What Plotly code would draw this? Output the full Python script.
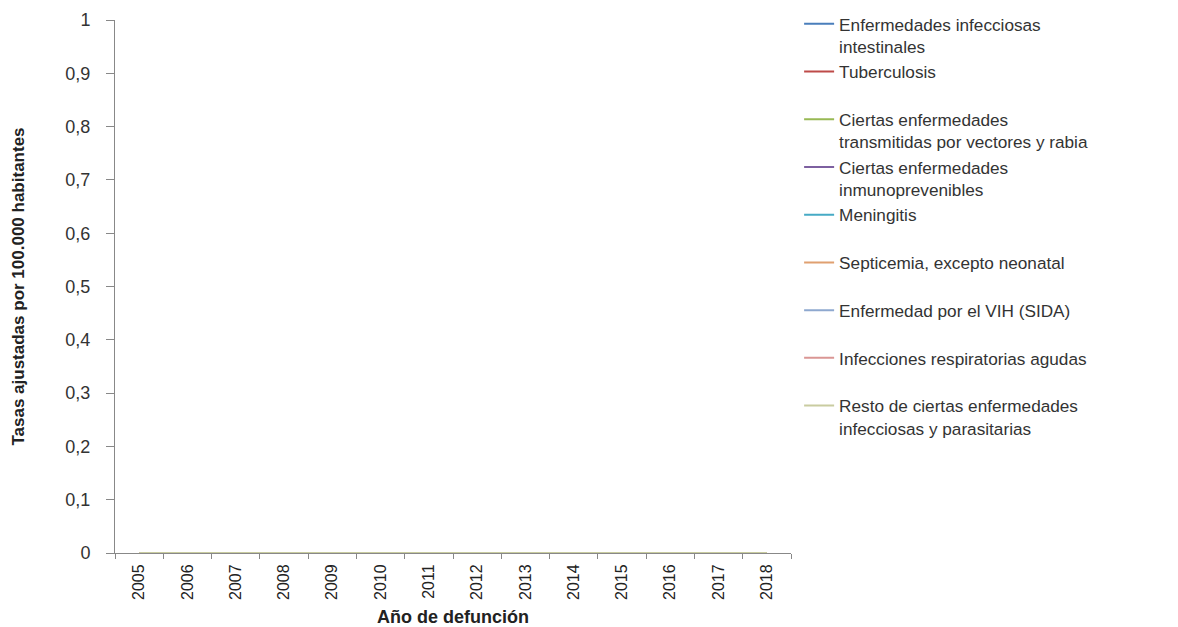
import plotly.graph_objects as go

years = ["2005", "2006", "2007", "2008", "2009", "2010", "2011",
         "2012", "2013", "2014", "2015", "2016", "2017", "2018"]

series_names = [
    "Enfermedades infecciosas<br>intestinales",
    "Tuberculosis<br> ",
    "Ciertas enfermedades<br>transmitidas por vectores y rabia",
    "Ciertas enfermedades<br>inmunoprevenibles",
    "Meningitis<br> ",
    "Septicemia, excepto neonatal<br> ",
    "Enfermedad por el VIH (SIDA)<br> ",
    "Infecciones respiratorias agudas<br> ",
    "Resto de ciertas enfermedades<br>infecciosas y parasitarias",
]

# All series are zero in the reference (lines lie on the x axis)
intestinales = [0] * 14
tuberculosis = [0] * 14
vectores = [0] * 14
inmunoprevenibles = [0] * 14
meningitis = [0] * 14
septicemia = [0] * 14
vih = [0] * 14
respiratorias = [0] * 14
resto = [0] * 14

values = [intestinales, tuberculosis, vectores, inmunoprevenibles, meningitis,
          septicemia, vih, respiratorias, resto]

colors = ["#4A7EBB", "#BE4B48", "#98B954", "#7D60A0", "#46AAC5",
          "#E0A070", "#8EA8CF", "#DA9694", "#C9CCA0"]

FONT = "Liberation Sans, Arial, sans-serif"

fig = go.Figure()
for name, vals, col in zip(series_names, values, colors):
    fig.add_trace(go.Scatter(x=years, y=vals, mode="lines", name=name,
                             line=dict(color=col, width=2)))

fig.update_layout(
    width=1178, height=627,
    paper_bgcolor="white", plot_bgcolor="white",
    margin=dict(l=107, r=395, t=12, b=82, autoexpand=False),
    separators=",.",
    font=dict(family=FONT, size=17, color="#404040"),
    showlegend=True,
    legend=dict(
        x=1.012, y=1.026, xanchor="left", yanchor="top",
        font=dict(family=FONT, size=17.2, color="#333333"),
        valign="top", tracegroupgap=0, itemwidth=30,
        maxheight=620,
        bgcolor="rgba(0,0,0,0)",
    ),
    xaxis=dict(
        type="category", range=[-0.5, 13.5],
        tickson="boundaries", ticks="outside", ticklen=5, tickcolor="#888888",
        ticklabelstandoff=4,
        showline=True, linecolor="#888888", linewidth=1,
        showgrid=False, zeroline=False,
        tickangle=-90,
        tickfont=dict(family=FONT, size=16, color="#222222"),
        title=dict(text="<b>Año de defunción</b>", standoff=11,
                   font=dict(family=FONT, size=18, color="#222222")),
    ),
    yaxis=dict(
        range=[0, 1], dtick=0.1, tick0=0,
        ticks="outside", ticklen=8, tickcolor="#888888",
        ticklabelstandoff=12,
        showline=True, linecolor="#888888", linewidth=1,
        showgrid=False, zeroline=False,
        tickfont=dict(family=FONT, size=18, color="#333333"),
        title=dict(text="<b>Tasas ajustadas por 100.000 habitantes</b>", standoff=36,
                   font=dict(family=FONT, size=17, color="#222222")),
    ),
)

fig.write_html("out.html")
